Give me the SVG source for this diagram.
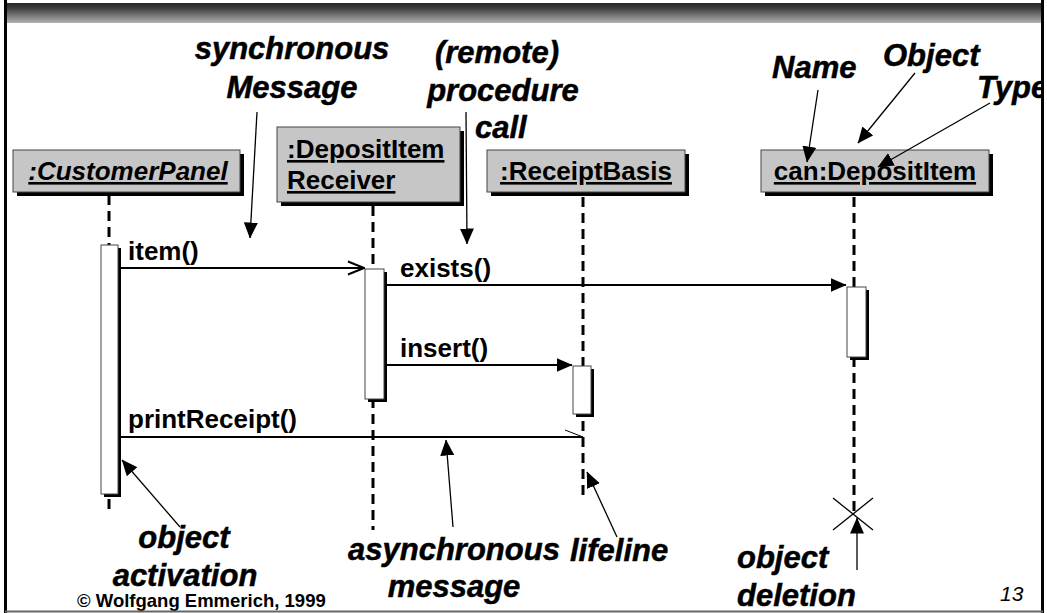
<svg xmlns="http://www.w3.org/2000/svg" width="1047" height="613" viewBox="0 0 1047 613">
  <defs>
    <linearGradient id="hdr" x1="0" y1="0" x2="0" y2="1">
      <stop offset="0" stop-color="#262626"/>
      <stop offset="0.25" stop-color="#3c3c3c"/>
      <stop offset="1" stop-color="#b2b2b2"/>
    </linearGradient>
    <!-- filled arrowhead for calls and pointers -->
    <marker id="tri" viewBox="0 0 16 14" refX="15.5" refY="7" markerWidth="16" markerHeight="14" orient="auto" markerUnits="userSpaceOnUse">
      <path d="M0,0 L16,7 L0,14 Z" fill="#000"/>
    </marker>
    <!-- open arrowhead for the synchronous message -->
    <marker id="open" viewBox="0 0 18 16" refX="17" refY="8" markerWidth="18" markerHeight="16" orient="auto" markerUnits="userSpaceOnUse">
      <path d="M1,1.5 L17,8 L1,14.5" fill="none" stroke="#000" stroke-width="2"/>
    </marker>
    <!-- half arrowhead for the asynchronous message -->
    <marker id="half" viewBox="0 0 20 10" refX="19" refY="8" markerWidth="20" markerHeight="10" orient="auto" markerUnits="userSpaceOnUse">
      <path d="M1,1 L19,8" fill="none" stroke="#000" stroke-width="1"/>
    </marker>
    <style>
      .obj { fill: #c6c6c6; stroke: #444; stroke-width: 1; }
      .shadow { fill: #000; }
      .act { fill: #fff; stroke: #444; stroke-width: 1; }
      .objtxt { font-family: "Liberation Sans", Arial, sans-serif; font-weight: bold; font-size: 26px; text-decoration: underline; fill: #000; }
      .msgtxt { font-family: "Liberation Sans", Arial, sans-serif; font-weight: bold; font-size: 26px; fill: #000; }
      .note { font-family: "Liberation Sans", Arial, sans-serif; font-weight: bold; font-style: italic; font-size: 31px; fill: #000; stroke: #000; stroke-width: 0.5; }
      .life { stroke: #000; stroke-width: 3; stroke-dasharray: 10 6; fill: none; }
      .msg { stroke: #000; stroke-width: 2; fill: none; }
      .ptr { stroke: #000; stroke-width: 1.3; fill: none; }
    </style>
  </defs>

  <rect width="1047" height="613" fill="#fff"/>

  <!-- slide header band -->
  <rect x="6" y="3" width="1036" height="20" fill="url(#hdr)"/>

  <!-- lifelines -->
  <g id="lifelines">
    <line class="life" x1="109" y1="195" x2="109" y2="512"/>
    <line class="life" x1="373" y1="206" x2="373" y2="530"/>
    <line class="life" x1="583" y1="197" x2="583" y2="500"/>
    <line class="life" x1="854" y1="197" x2="854" y2="513"/>
  </g>

  <!-- objects -->
  <g id="customerPanel">
    <rect class="shadow" x="17" y="154" width="227" height="42"/>
    <rect class="obj" x="13" y="150" width="227" height="42"/>
    <text class="objtxt" x="128" y="180" text-anchor="middle" font-style="italic">:CustomerPanel</text>
  </g>
  <g id="depositItemReceiver">
    <rect class="shadow" x="281" y="131" width="183" height="75"/>
    <rect class="obj" x="277" y="127" width="183" height="75"/>
    <text class="objtxt" x="287" y="158">:DepositItem</text>
    <text class="objtxt" x="287" y="189">Receiver</text>
  </g>
  <g id="receiptBasis">
    <rect class="shadow" x="491" y="154" width="198" height="42"/>
    <rect class="obj" x="487" y="150" width="198" height="42"/>
    <text class="objtxt" x="586" y="180" text-anchor="middle">:ReceiptBasis</text>
  </g>
  <g id="canDepositItem">
    <rect class="shadow" x="765" y="154" width="228" height="42"/>
    <rect class="obj" x="761" y="150" width="228" height="42"/>
    <text class="objtxt" x="875" y="180" text-anchor="middle">can:DepositItem</text>
  </g>

  <!-- activation bars -->
  <g id="activations">
    <rect class="shadow" x="104" y="248" width="17" height="249"/>
    <rect class="act" x="101" y="245" width="17" height="249"/>
    <rect class="shadow" x="368" y="272" width="19" height="130"/>
    <rect class="act" x="365" y="269" width="19" height="130"/>
    <rect class="shadow" x="576" y="369" width="18" height="48"/>
    <rect class="act" x="573" y="366" width="18" height="48"/>
    <rect class="shadow" x="850" y="290" width="19" height="70"/>
    <rect class="act" x="847" y="287" width="19" height="70"/>
  </g>

  <!-- messages -->
  <g id="connectors">
    <line class="msg" x1="121" y1="268" x2="364" y2="268" marker-end="url(#open)"/>
    <line class="msg" x1="387" y1="285" x2="846" y2="285" marker-end="url(#tri)"/>
    <line class="msg" x1="387" y1="365" x2="572" y2="365" marker-end="url(#tri)"/>
    <line class="msg" x1="121" y1="437" x2="583" y2="437" marker-end="url(#half)"/>

    <!-- annotation pointers -->
    <line class="ptr" x1="257" y1="112" x2="250" y2="238" marker-end="url(#tri)"/>
    <line class="ptr" x1="466" y1="112" x2="467" y2="244" marker-end="url(#tri)"/>
    <line class="ptr" x1="818" y1="90" x2="807" y2="162" marker-end="url(#tri)"/>
    <line class="ptr" x1="915" y1="73" x2="858" y2="143" marker-end="url(#tri)"/>
    <line class="ptr" x1="990" y1="103" x2="878" y2="167" marker-end="url(#tri)"/>
    <line class="ptr" x1="180" y1="527" x2="122" y2="460" marker-end="url(#tri)"/>
    <line class="ptr" x1="453" y1="527" x2="446" y2="440" marker-end="url(#tri)"/>
    <line class="ptr" x1="617" y1="537" x2="587" y2="472" marker-end="url(#tri)"/>
    <line class="ptr" x1="857" y1="570" x2="857" y2="518" marker-end="url(#tri)"/>

    <!-- destruction mark -->
    <line class="ptr" x1="833" y1="498" x2="873" y2="530"/>
    <line class="ptr" x1="873" y1="498" x2="833" y2="530"/>
  </g>

  <!-- message labels -->
  <g id="messageLabels">
    <text class="msgtxt" x="128" y="260">item()</text>
    <text class="msgtxt" x="400" y="277">exists()</text>
    <text class="msgtxt" x="400" y="357">insert()</text>
    <text class="msgtxt" x="128" y="428">printReceipt()</text>
  </g>

  <!-- annotations -->
  <g id="annotations">
    <text class="note" x="292" y="59" text-anchor="middle">synchronous</text>
    <text class="note" x="292" y="98" text-anchor="middle">Message</text>
    <text class="note" x="497" y="63" text-anchor="middle">(remote)</text>
    <text class="note" x="503" y="101" text-anchor="middle">procedure</text>
    <text class="note" x="475" y="138">call</text>
    <text class="note" x="772" y="78">Name</text>
    <text class="note" x="883" y="66">Object</text>
    <text class="note" x="977" y="98">Type</text>
    <text class="note" x="184" y="548" text-anchor="middle">object</text>
    <text class="note" x="185" y="586" text-anchor="middle">activation</text>
    <text class="note" x="348" y="560">asynchronous</text>
    <text class="note" x="454" y="597" text-anchor="middle">message</text>
    <text class="note" x="570" y="561">lifeline</text>
    <text class="note" x="737" y="568">object</text>
    <text class="note" x="737" y="606">deletion</text>
  </g>

  <!-- slide footer -->
  <text x="77" y="607" font-family="'Liberation Sans', Arial, sans-serif" font-weight="bold" font-size="18.5">© Wolfgang Emmerich, 1999</text>
  <text x="1000" y="601" font-family="'Liberation Sans', Arial, sans-serif" font-style="italic" font-size="21">13</text>

  <!-- slide frame -->
  <rect x="1043" y="0" width="4" height="613" fill="#fff"/>
  <line x1="5.5" y1="0" x2="5.5" y2="613" stroke="#000" stroke-width="3"/>
  <line x1="1042.5" y1="0" x2="1042.5" y2="613" stroke="#000" stroke-width="3"/>
  <line x1="5" y1="611.5" x2="1043" y2="611.5" stroke="#666" stroke-width="2"/>
</svg>
